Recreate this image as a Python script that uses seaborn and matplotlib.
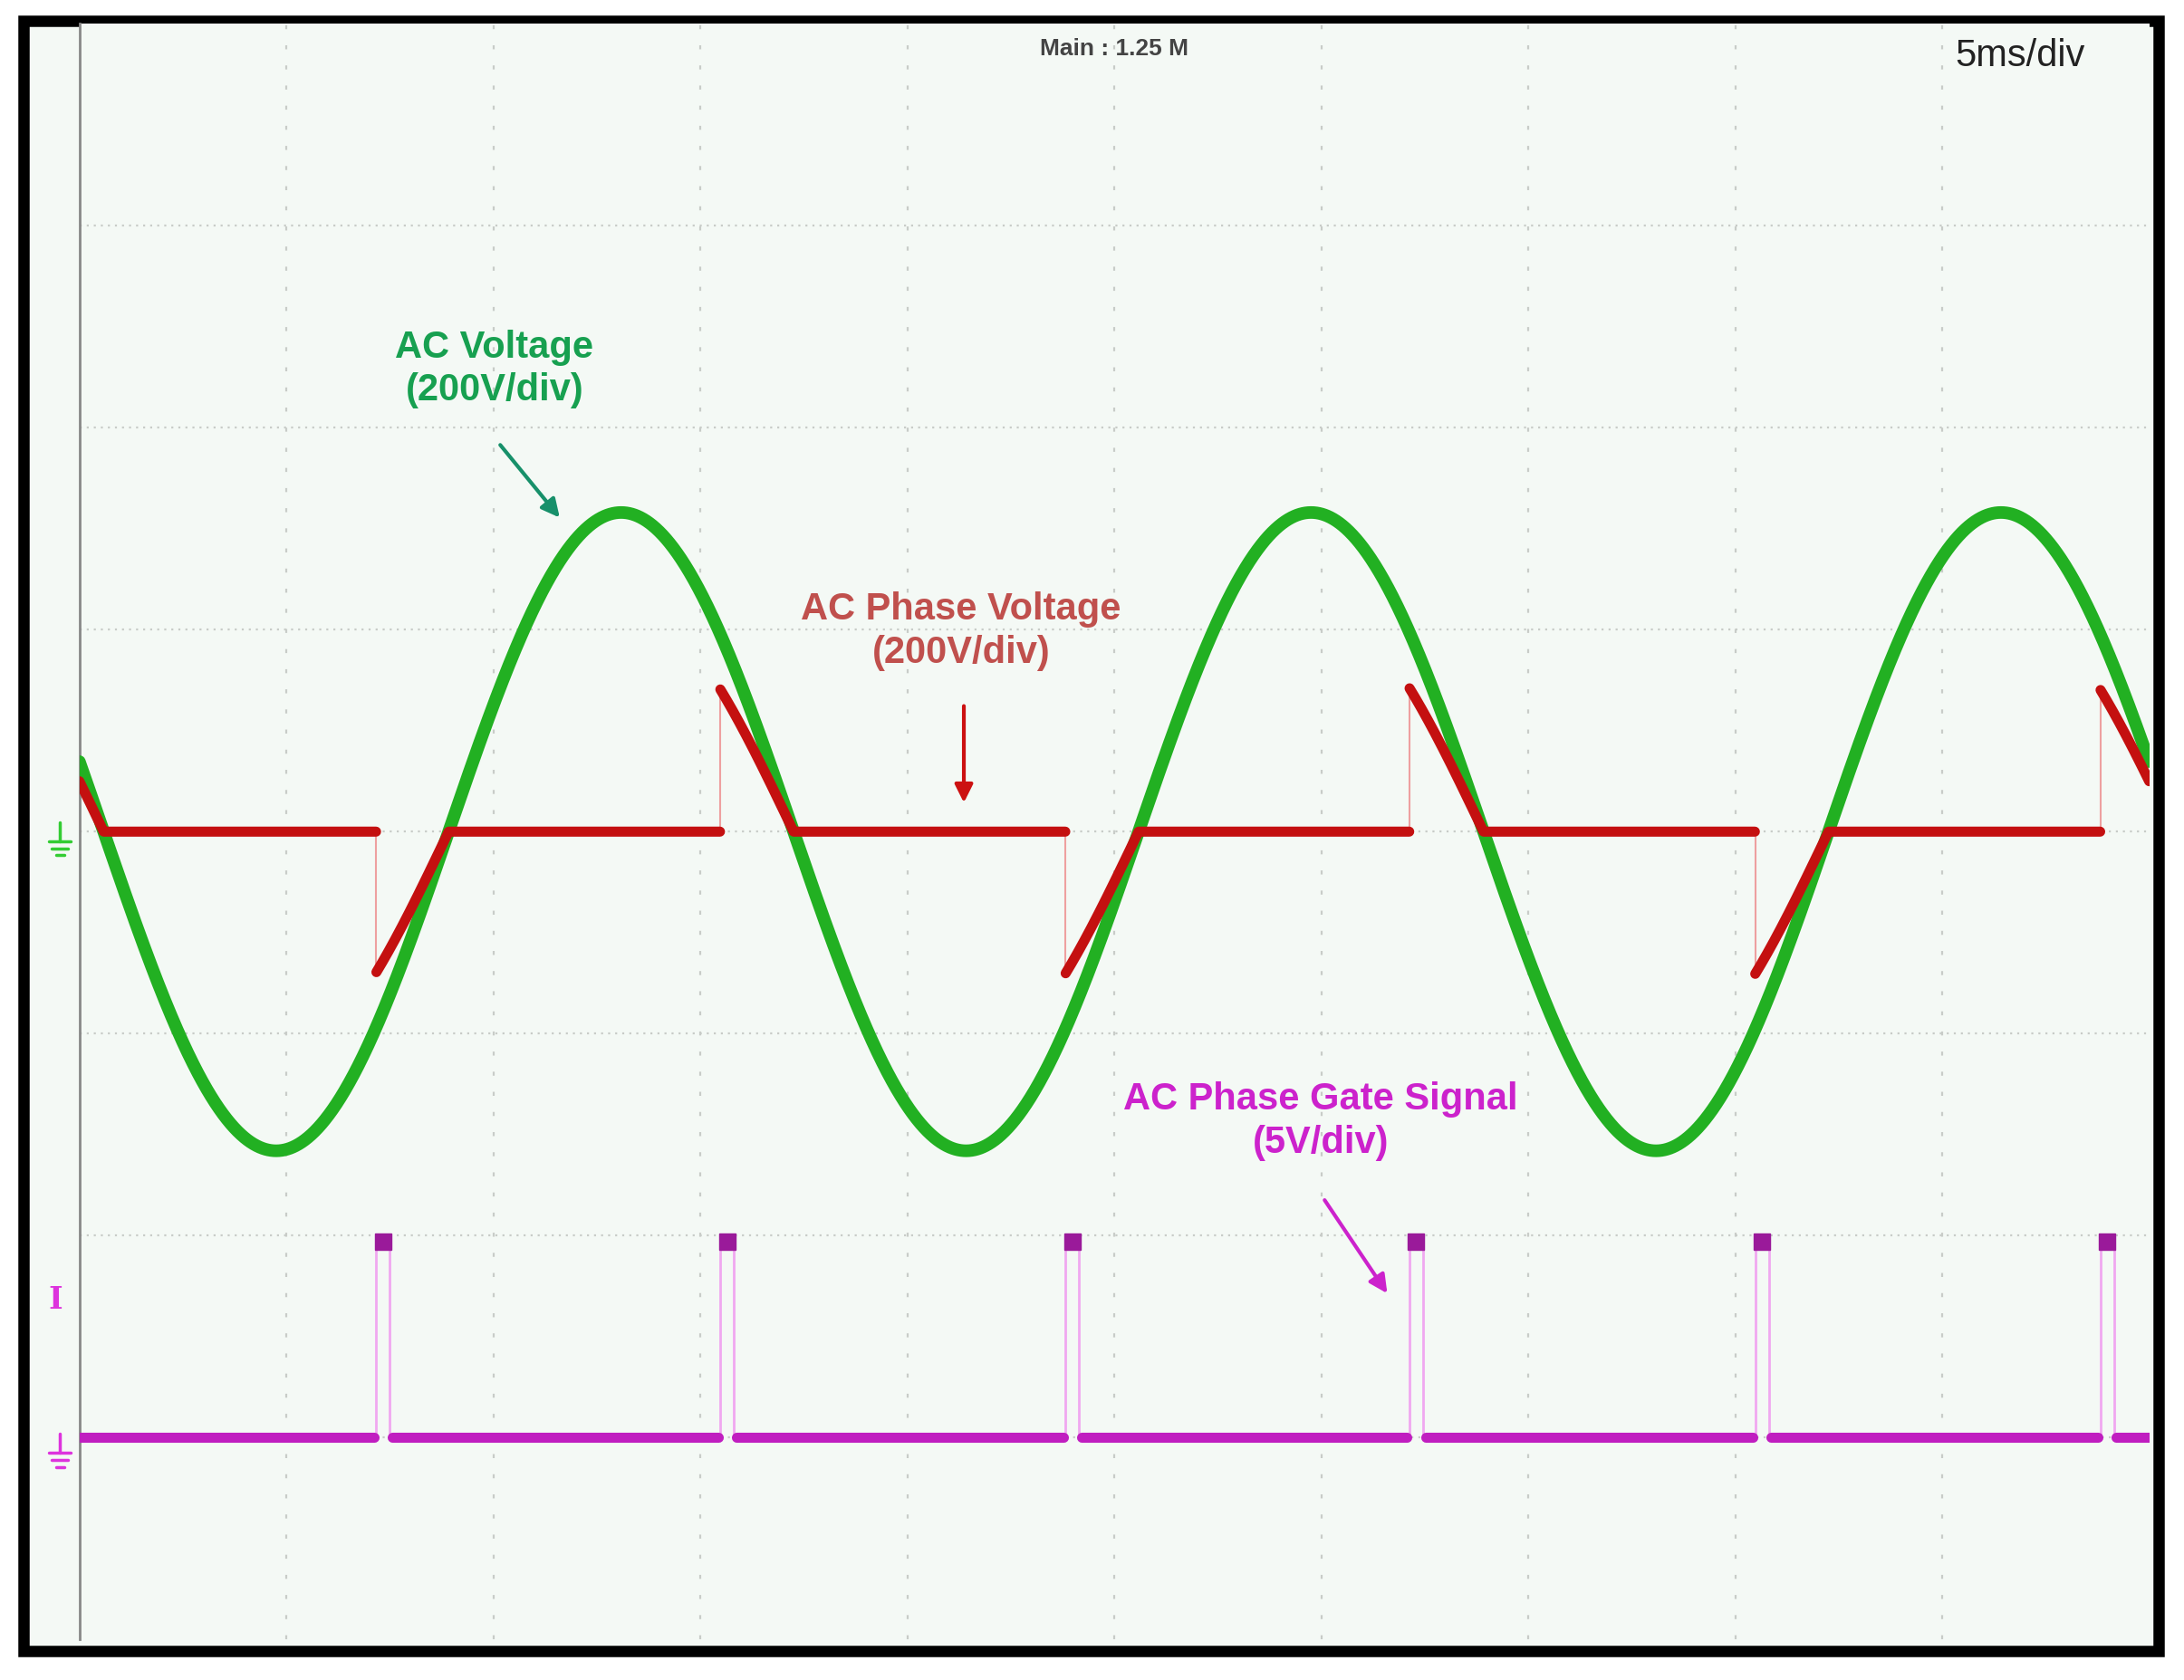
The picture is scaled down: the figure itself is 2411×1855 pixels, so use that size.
import numpy as np
import pandas as pd
import matplotlib
matplotlib.use('Agg')
import matplotlib.pyplot as plt
import seaborn as sns
from matplotlib.patches import Rectangle, FancyArrowPatch
from matplotlib.lines import Line2D

# scope settings (divisions; 5 ms/div)
ac_amp_div = 1.58          # AC voltage peak, divisions
ac_freq_hz = 60.0
ac_rise_zero_ms = 8.92     # rising zero crossing of AC voltage
phase_scale = 0.72         # phase trace relative to AC trace while conducting
fire_ms = [7.17, 15.48, 23.82, 32.13, 40.48, 48.82]   # gate pulses / phase switching
pulse_width_ms = 0.33
gate_low_div = -3.0
gate_high_div = -2.03
t_end_ms = 50.0

sns.set_theme(style='white')
plt.rcParams['font.family'] = ['Liberation Sans', 'DejaVu Sans']

t = np.linspace(0, t_end_ms, 6001)
ac = ac_amp_div * np.sin(2 * np.pi * ac_freq_hz * (t - ac_rise_zero_ms) / 1000.0)
half = 500.0 / ac_freq_hz
zc = ac_rise_zero_ms + half * np.arange(-1, 6)
on = t <= zc[0]
for f in fire_ms:
    z = zc[zc >= f][0]
    on |= (t >= f) & (t <= z)
phase = np.where(on, phase_scale * ac, 0.0)
# segment ids so the switching edges are not drawn thick
phase_seg = np.searchsorted(np.array(fire_ms), t, side='right')
gate_seg = phase_seg.copy()
in_pulse = np.zeros_like(t, dtype=bool)
for f in fire_ms:
    in_pulse |= (t >= f - 0.05) & (t <= f + pulse_width_ms + 0.05)
gate = np.full_like(t, gate_low_div)

df = pd.DataFrame({'t': t, 'ac': ac, 'phase': phase, 'pseg': phase_seg,
                   'gate': gate, 'gseg': gate_seg})
df_gate = df[~in_pulse]

W, H = 1568, 1206  # reference layout units
fig = plt.figure(figsize=(24.11, 18.55), dpi=100)
fig.patch.set_facecolor('white')
bg = '#f4f9f5'
fig.patches.append(Rectangle((17 / W, 1 - 1185 / H), (1550 - 17) / W, (1185 - 15) / H,
                             transform=fig.transFigure, facecolor=bg, edgecolor='black',
                             linewidth=9, zorder=-10))
ax = fig.add_axes([57 / W, 1 - 1177 / H, (1543 - 57) / W, (1177 - 17) / H])
ax.set_facecolor(bg)
ax.set_xlim(0, t_end_ms)
ax.set_ylim(-4, 4)
for x in np.arange(5, 50, 5):
    ax.axvline(x, color='#c8ccc8', lw=1.6, ls=(0, (2, 8)), zorder=1)
for y in np.arange(-3, 4, 1):
    ax.axhline(y, color='#c8ccc8', lw=1.6, ls=(0, (1, 2.5)), zorder=1)

sns.lineplot(data=df, x='t', y='ac', ax=ax, color='#22b022', lw=10, zorder=3,
             estimator=None, sort=False)
for f in fire_ms:
    v = phase[np.searchsorted(t, f) + 1]
    ax.vlines(f, 0, v, color='#eea0a0', lw=1.5, zorder=2)
sns.lineplot(data=df, x='t', y='phase', units='pseg', ax=ax, color='#c41010', lw=8,
             zorder=4, estimator=None, sort=False)

for f in fire_ms:
    for e in (f, f + pulse_width_ms):
        ax.vlines(e, gate_low_div, gate_high_div, color='#f0a8f0', lw=2, zorder=2)
    ax.plot([f + pulse_width_ms / 2], [gate_high_div], marker='s', ms=13,
            color='#9a1a9a', zorder=5)
sns.lineplot(data=df_gate, x='t', y='gate', units='gseg', ax=ax, color='#c01ec0', lw=8,
             zorder=4, estimator=None, sort=False)

for s in ['top', 'right', 'bottom']:
    ax.spines[s].set_visible(False)
ax.spines['left'].set_color('#888888')
ax.spines['left'].set_linewidth(2)
ax.set_xticks([])
ax.set_yticks([])
ax.set_xlabel('')
ax.set_ylabel('')


def fx(x):
    return x / W


def fy(y):
    return 1 - y / H


fig.text(fx(800), fy(35), 'Main : 1.25 M', ha='center', va='center', fontsize=19,
         color='#444444', fontweight='bold')
fig.text(fx(1450), fy(40), '5ms/div', ha='center', va='center', fontsize=30, color='#222222')

fig.text(fx(355), fy(265), 'AC Voltage\n(200V/div)', ha='center', va='center', fontsize=30,
         color='#17a050', fontweight='bold', linespacing=1.25)
fig.text(fx(690), fy(453), 'AC Phase Voltage\n(200V/div)', ha='center', va='center', fontsize=30,
         color='#c0504d', fontweight='bold', linespacing=1.25)
fig.text(fx(948), fy(805), 'AC Phase Gate Signal\n(5V/div)', ha='center', va='center', fontsize=30,
         color='#cc22cc', fontweight='bold', linespacing=1.25)

for (x0, y0, x1, y1, c) in [(358, 318, 403, 373, '#17906a'),
                            (692, 505, 692, 578, '#cc1111'),
                            (950, 860, 997, 930, '#cc22cc')]:
    fig.add_artist(FancyArrowPatch((fx(x0), fy(y0)), (fx(x1), fy(y1)),
                                   transform=fig.transFigure, arrowstyle='-|>',
                                   mutation_scale=30, color=c, lw=3))


def ground(xc, yc, c):
    # small ground symbol at the left margin
    segs = [((xc, yc - 14), (xc, yc)), ((xc - 8, yc), (xc + 8, yc)),
            ((xc - 6, yc + 5), (xc + 6, yc + 5)), ((xc - 3, yc + 10), (xc + 3, yc + 10))]
    for (a, b) in segs:
        fig.add_artist(Line2D([fx(a[0]), fx(b[0])], [fy(a[1]), fy(b[1])],
                              transform=fig.transFigure, color=c, lw=2.5))


ground(43, 604, '#33cc33')
ground(43, 1043, '#dd33dd')
fig.text(fx(40), fy(933), 'I', ha='center', va='center', fontsize=24, color='#dd33dd',
         fontweight='bold', family=['DejaVu Serif'])

fig.savefig('out.png', dpi=100)
